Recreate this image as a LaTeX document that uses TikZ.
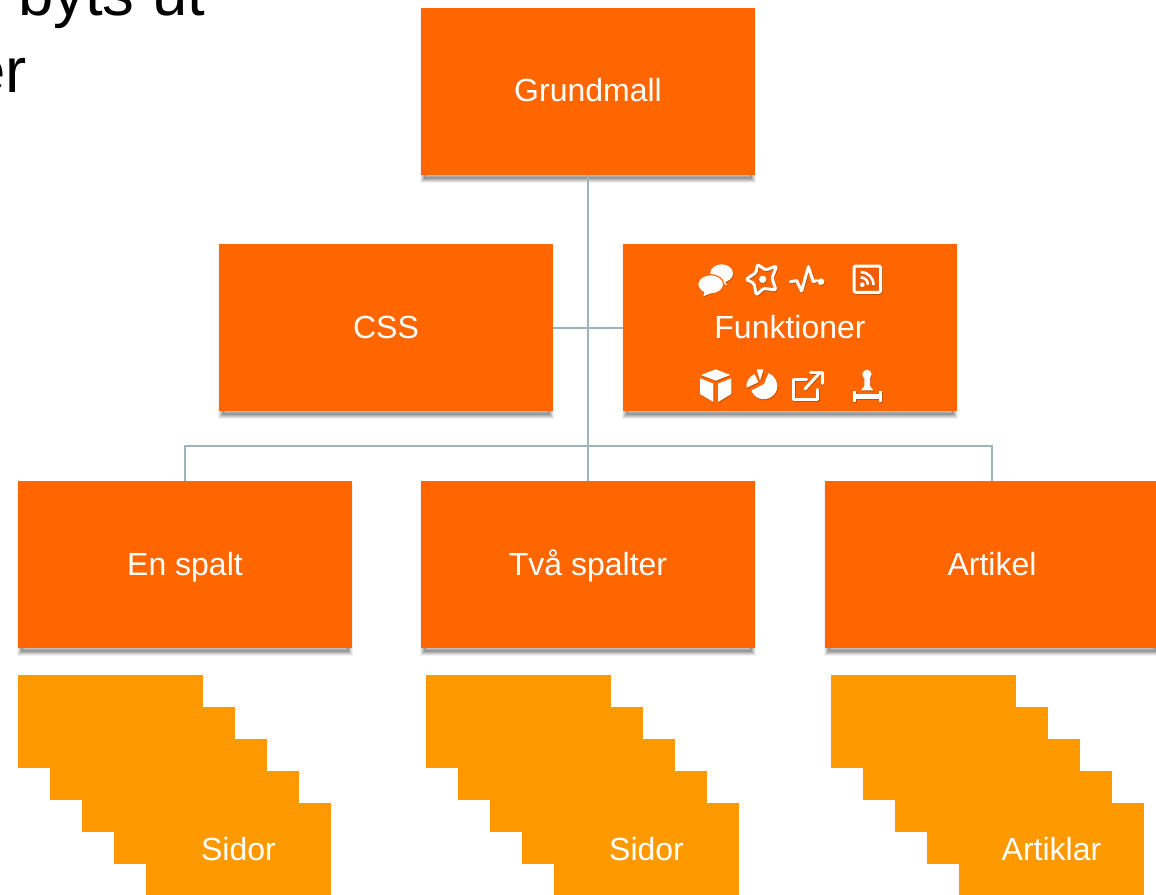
\documentclass[tikz,border=0pt]{standalone}
\usepackage{fontspec}
\usetikzlibrary{shadows}
\setmainfont{Liberation Sans}
\definecolor{boxorange}{HTML}{FF6600}
\definecolor{pageorange}{HTML}{FF9900}
\definecolor{linkgrey}{HTML}{9DB4BC}
\definecolor{rssinner}{HTML}{EE5E00}
\definecolor{iconshade}{HTML}{C65000}
\tikzset{
  softshadow/.style={
    general shadow={shadow scale=.98,draw=black,draw opacity=.05,line width=9pt,shadow yshift=-5.5pt},
    general shadow={shadow scale=.98,draw=black,draw opacity=.08,line width=7pt,shadow yshift=-5.5pt},
    general shadow={shadow scale=.98,draw=black,draw opacity=.10,line width=5pt,shadow yshift=-5.5pt},
    general shadow={shadow scale=.98,draw=black,draw opacity=.10,line width=3pt,shadow yshift=-5.5pt},
    general shadow={shadow scale=.98,fill=black,fill opacity=.15,shadow yshift=-5.5pt}},
  labeltext/.style={text=white,font=\fontsize{32}{38}\selectfont,text height=28pt,text depth=6pt},
  mainbox/.style={rectangle,fill=boxorange,minimum width=334pt,minimum height=167pt,inner sep=0pt,labeltext,softshadow},
  pagebox/.style={rectangle,fill=pageorange,minimum width=185pt,minimum height=93pt,inner sep=0pt,labeltext},
  link/.style={draw=linkgrey,line width=2pt},
  bodytext/.style={text=black,inner sep=0pt,font=\fontsize{63.5}{74}\selectfont},
  iconline/.style={draw=ic,line width=3pt,fill=none,line join=round,line cap=round},
}
\newcommand{\iconset}{%
  % chat bubbles
  \fill[ic] (305,100) ellipse (34 and 27);
  \fill[ic] (312,120) -- (322,137) -- (300,124) -- cycle;
  \fill[ic,draw=boxorange,line width=1.2pt] (272,133) ellipse (39 and 29);
  \fill[ic] (255,150) -- (250,169) -- (278,157) -- cycle;
  % star
  \draw[iconline,rounded corners=1.5pt] (412,73) -- (437,90) -- (470,78) -- (456,115) -- (468,150) -- (431,145) -- (409,165) -- (402,130) -- (378,118) -- (408,98) -- cycle;
  \fill[ic] (428,118) circle (11);
  % pulse
  \draw[iconline] (511,125) -- (530,122) -- (545,153) -- (565,80) -- (580,125) -- (590,122);
  \fill[ic] (603,125) circle (10);
  % rss
  \draw[iconline,fill=rssinner,rounded corners=2pt] (702,78) rectangle (782,157);
  \fill[ic] (727,134) circle (7);
  \draw[ic,line width=2.6pt] (722,112) arc[start angle=-90,end angle=0,radius=22];
  \draw[ic,line width=2.6pt] (722,96) arc[start angle=-90,end angle=0,radius=39];
  % cube
  \fill[ic] (287,388) -- (331,405) -- (287,422) -- (243,405) -- cycle;
  \fill[ic] (240,415) -- (280,431) -- (280,486) -- (240,462) -- cycle;
  \fill[ic] (334,415) -- (294,431) -- (294,486) -- (334,462) -- cycle;
  % pie
  \fill[ic] (432,432) -- (445,400) arc[start angle=-71,end angle=160,radius=40] -- cycle;
  \fill[ic] (410,388) -- (431,388) -- (420,422) -- cycle;
  \fill[ic] (404,402) -- (415,427) -- (380,443) .. controls (377,426) and (388,410) .. cycle;
  % open external
  \draw[iconline] (560,419) -- (521,419) -- (521,478) -- (592,478) -- (592,448);
  \draw[iconline] (555,447) -- (600,398);
  \draw[iconline] (572,396) -- (606,396) -- (606,430);
  % stamp
  \fill[ic] (741,403) circle (14);
  \fill[ic] (733,410) -- (750,410) -- (750,438) -- (760,451) -- (723,451) -- (733,438) -- cycle;
  \fill[ic] (700,462) rectangle (785,478);
  \fill[ic] (698,454) rectangle (708,486);
  \fill[ic] (777,454) rectangle (787,486);
}
\begin{document}
\begin{tikzpicture}[x=1pt,y=-1pt]
\useasboundingbox (0,0) rectangle (1156,894);
\clip (0,0) rectangle (1156,894);
\node[bodytext,anchor=base west] (t1) at (18,16) {byts ut};
\node[bodytext,anchor=base east] (t2) at (27,92.7) {er};
\node[mainbox,text height=26pt,text depth=6pt] (grund) at (588,91.5) {Grundmall};
\node[mainbox] (css) at (386,327.5) {CSS};
\node[mainbox] (fun) at (790,327.5) {Funktioner};
\node[mainbox] (en) at (185,564.5) {En spalt};
\node[mainbox] (tva) at (588,564.5) {Två spalter};
\node[mainbox] (art) at (992,564.5) {Artikel};
\coordinate (bus) at (588,446);
\draw[link] (grund.south) -- (tva.north);
\draw[link] (css.east) -- (fun.west);
\draw[link] (en.north) |- (bus) -| (art.north);
\foreach \sx/\lab/\nm in {110.5/Sidor/a,518.5/Sidor/b,923.5/Artiklar/c}{
  \foreach \i in {0,1,2,3}{
    \node[pagebox] (p\nm\i) at ({\sx+32*\i},{721.5+32*\i}) {};
  }
  \node[pagebox] (p\nm4) at ({\sx+128},849.5) {\lab};
}
\begin{scope}[x=.33333pt,y=-.33333pt,shift={(620.7pt,-241pt)}]
  \colorlet{ic}{iconshade}
  \iconset
\end{scope}
\begin{scope}[x=.33333pt,y=-.33333pt,shift={(620pt,-240pt)}]
  \colorlet{ic}{white}
  \iconset
\end{scope}
\end{tikzpicture}
\end{document}
